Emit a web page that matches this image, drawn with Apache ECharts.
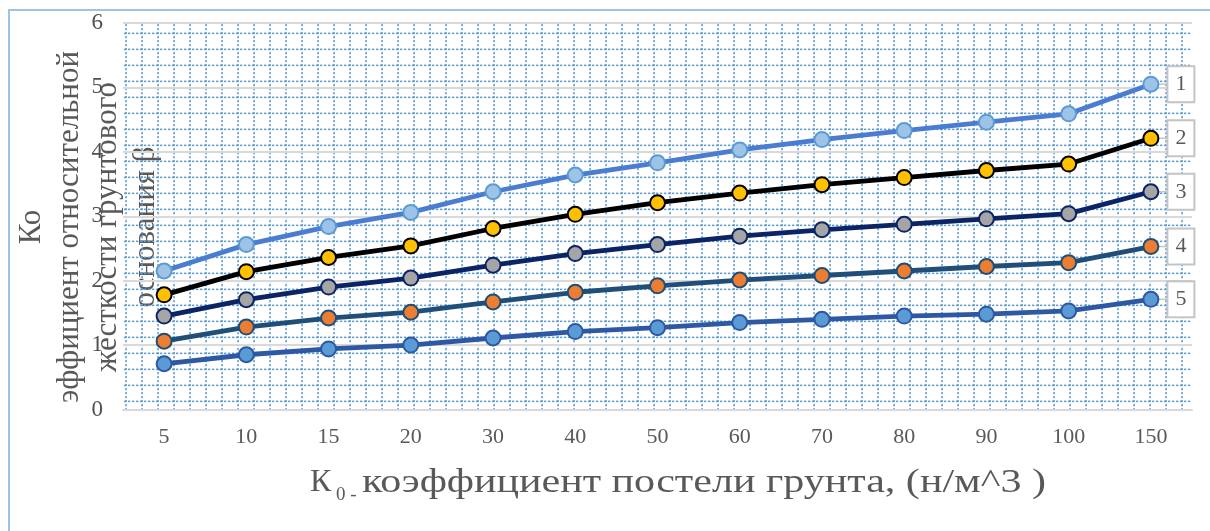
<!DOCTYPE html>
<html>
<head>
<meta charset="utf-8">
<script src="https://cdn.jsdelivr.net/npm/echarts@6/dist/echarts.min.js"></script>
<style>
  html, body { margin: 0; padding: 0; background: #ffffff; }
  #chart { width: 1210px; height: 531px; }
</style>
</head>
<body>
<div id="chart"></div>
<script>
// Subgrade reaction coefficient K0 (categories) and relative stiffness β of five curves
const categories = ['5', '10', '15', '20', '30', '40', '50', '60', '70', '80', '90', '100', '150'];
const curve1 = [2.15, 2.56, 2.84, 3.06, 3.38, 3.64, 3.83, 4.03, 4.19, 4.33, 4.46, 4.59, 5.05];
const curve2 = [1.78, 2.14, 2.36, 2.54, 2.81, 3.03, 3.21, 3.36, 3.49, 3.60, 3.71, 3.81, 4.21];
const curve3 = [1.45, 1.705, 1.90, 2.04, 2.24, 2.42, 2.56, 2.69, 2.79, 2.875, 2.96, 3.04, 3.38];
const curve4 = [1.06, 1.28, 1.42, 1.51, 1.67, 1.82, 1.92, 2.01, 2.08, 2.15, 2.22, 2.28, 2.53];
const curve5 = [0.71, 0.85, 0.94, 1.00, 1.11, 1.21, 1.27, 1.35, 1.40, 1.45, 1.48, 1.53, 1.71];
const curveNames = ['1', '2', '3', '4', '5'];
const yTitleLines = ['Ко', 'эффициент относительной', 'жесткости грунтового', 'основания β'];
const xTitleMain = 'К';
const xTitleSub = '0 -';
const xTitleRest = 'коэффициент постели грунта, (н/м^3 )';

const SERIF = '"Liberation Serif", "Times New Roman", serif';
const TEXT_GREY = '#595959';

// Dotted-grid fill for the plot area
const tile = document.createElement('canvas');
tile.width = 16; tile.height = 16;
const tctx = tile.getContext('2d');
tctx.fillStyle = '#5b9bd5';
for (let k = 0; k < 4; k++) {
  tctx.fillRect(13.3, k * 4, 1.5, 2.3);      // vertical dots
  tctx.fillRect(k * 4, 0.6, 2.3, 1.5);       // horizontal dots
}
const dottedFill = { image: tile, repeat: 'repeat' };

const styles = [
  { line: '#4a7dd2', fill: '#9dc3e6', border: '#5b9bd5' },
  { line: '#000000', fill: '#ffc000', border: '#000000' },
  { line: '#0b2466', fill: '#a5a5a5', border: '#0b2466' },
  { line: '#1f4e79', fill: '#ed7d31', border: '#1f4e79' },
  { line: '#2d58a3', fill: '#5b9bd5', border: '#2d58a3' }
];

const lastIdx = categories.length - 1;

// Short leader from the end marker to the upper-left corner of its label box
function leaderLayout(params) {
  const r = params.rect;
  const l = params.labelRect;
  if (!r || !l) return {};
  return {
    labelLinePoints: [
      [r.x + r.width - 1.5, r.y + r.height / 2 - 3],
      [l.x - 3, l.y + 7],
      [l.x + 1, l.y + 5]
    ]
  };
}

function buildSeries(name, values, st) {
  return {
    name: name,
    type: 'line',
    data: values.map((v, i) => i === lastIdx ? { value: v, label: { show: true } } : v),
    symbol: 'circle',
    symbolSize: 15,
    lineStyle: { color: st.line, width: 4.8 },
    itemStyle: { color: st.fill, borderColor: st.border, borderWidth: 2 },
    label: {
      show: false,
      position: 'right',
      distance: 9,
      formatter: '{a}',
      fontFamily: SERIF,
      fontSize: 22,
      color: TEXT_GREY,
      backgroundColor: '#ffffff',
      borderColor: '#c4c4c4',
      borderWidth: 2,
      padding: [6, 7, 6, 7]
    },
    labelLine: { show: true, lineStyle: { color: '#c4c4c4', width: 1.5 } },
    labelLayout: leaderLayout,
    emphasis: { disabled: true }
  };
}

const allCurves = [curve1, curve2, curve3, curve4, curve5];

const chart = echarts.init(document.getElementById('chart'), null, { renderer: 'canvas' });
chart.setOption({
  animation: false,
  backgroundColor: '#ffffff',
  grid: {
    left: 123, right: 18, top: 23, bottom: 121.5,
    show: true, backgroundColor: dottedFill, borderWidth: 0
  },
  xAxis: {
    type: 'category',
    data: categories,
    boundaryGap: true,
    axisLine: { show: true, lineStyle: { color: '#d9d9d9', width: 2 } },
    axisTick: { show: false },
    axisLabel: { fontFamily: SERIF, fontSize: 22, color: TEXT_GREY, margin: 17 },
    splitLine: { show: false }
  },
  yAxis: {
    type: 'value',
    min: 0, max: 6, interval: 1,
    axisLine: { show: false },
    axisTick: { show: false },
    axisLabel: { fontFamily: SERIF, fontSize: 23, color: '#505050', margin: 20 },
    splitLine: { show: true, lineStyle: { color: '#d9d9d9', width: 2 } }
  },
  series: allCurves.map((vals, i) => buildSeries(curveNames[i], vals, styles[i])),
  graphic: [
    {
      type: 'rect',
      silent: true,
      shape: { x: 9, y: 10, width: 1220, height: 540 },
      style: { fill: 'none', stroke: '#9dc3e6', lineWidth: 2 }
    },
    {
      type: 'text',
      silent: true,
      x: 89, y: 227,
      rotation: Math.PI / 2,
      z: -1,
      style: {
        text: yTitleLines.join('\n'),
        fontFamily: SERIF, fontSize: 31, lineHeight: 38,
        fill: TEXT_GREY, align: 'center', verticalAlign: 'middle'
      }
    },
    {
      type: 'text', silent: true, x: 310, y: 483,
      style: { text: xTitleMain, fontFamily: SERIF, fontSize: 32, fill: TEXT_GREY, align: 'left', verticalAlign: 'middle' }
    },
    {
      type: 'text', silent: true, x: 336, y: 495,
      style: { text: xTitleSub, fontFamily: SERIF, fontSize: 19, fill: TEXT_GREY, align: 'left', verticalAlign: 'middle' }
    },
    {
      type: 'text', silent: true, x: 362, y: 483,
      scaleX: 1.275,
      style: { text: xTitleRest, fontFamily: SERIF, fontSize: 33, fill: TEXT_GREY, align: 'left', verticalAlign: 'middle' }
    }
  ]
});
</script>
</body>
</html>
